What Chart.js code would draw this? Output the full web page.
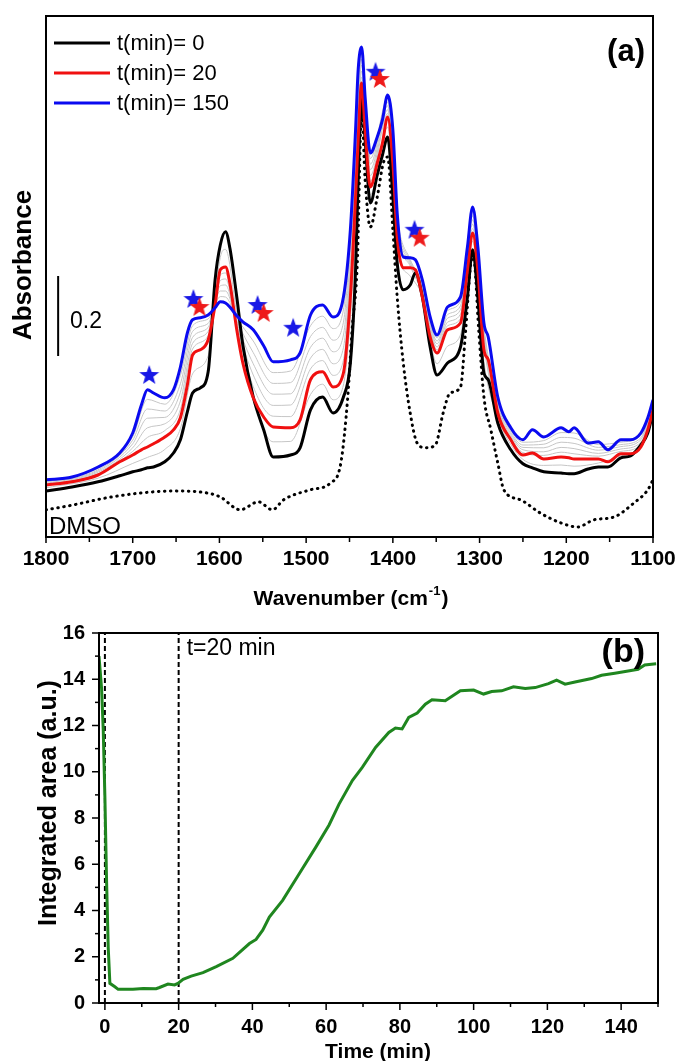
<!DOCTYPE html>
<html>
<head>
<meta charset="utf-8">
<script src="https://cdn.jsdelivr.net/npm/chart.js@4.4.1/dist/chart.umd.min.js"></script>
<style>
  html, body { margin: 0; padding: 0; background: #fff; }
  #wrap { position: relative; width: 678px; height: 1061px; overflow: hidden; background: #fff; }
  canvas { position: absolute; left: 0; }
  #spectraChart { top: 0; }
  #areaChart { top: 615px; }
</style>
</head>
<body>
<div id="wrap">
  <canvas id="spectraChart" width="678" height="615"></canvas>
  <canvas id="areaChart" width="678" height="446"></canvas>
</div>
<script>
// ---- panel (a) data: IR spectra ----
const wn = [1800, 1770, 1740, 1715, 1700, 1690, 1683, 1676, 1663, 1653,
  1645, 1637, 1631, 1622, 1613, 1605, 1599, 1593, 1588, 1580,
  1573, 1561, 1549, 1538, 1518, 1507, 1495, 1481, 1469, 1457,
  1449, 1443, 1440, 1436, 1432, 1426, 1418, 1412, 1406, 1400,
  1395, 1388, 1380, 1374, 1366, 1357, 1349, 1337, 1322, 1314,
  1308, 1302, 1295, 1290, 1279, 1264, 1250, 1239, 1226, 1206,
  1197, 1191, 1175, 1163, 1152, 1137, 1126, 1114, 1106, 1100];

const absT0 = [0.115, 0.125, 0.138, 0.153, 0.163, 0.168, 0.173, 0.175, 0.188, 0.210,
  0.243, 0.313, 0.360, 0.373, 0.413, 0.643, 0.730, 0.763, 0.723, 0.600,
  0.480, 0.350, 0.268, 0.200, 0.205, 0.223, 0.318, 0.350, 0.310, 0.350,
  0.435, 0.668, 0.893, 1.100, 0.993, 0.835, 0.905, 0.955, 1.000, 0.850,
  0.685, 0.618, 0.630, 0.660, 0.600, 0.475, 0.405, 0.435, 0.475, 0.600,
  0.718, 0.600, 0.410, 0.393, 0.285, 0.218, 0.183, 0.173, 0.163, 0.160,
  0.158, 0.158, 0.170, 0.175, 0.175, 0.198, 0.203, 0.230, 0.260, 0.313];

const absT20 = [0.130, 0.138, 0.155, 0.188, 0.205, 0.218, 0.225, 0.233, 0.250, 0.268,
  0.298, 0.380, 0.455, 0.468, 0.493, 0.580, 0.668, 0.675, 0.635, 0.518,
  0.435, 0.348, 0.300, 0.275, 0.273, 0.293, 0.393, 0.413, 0.375, 0.410,
  0.600, 0.850, 0.993, 1.135, 1.018, 0.875, 0.935, 0.985, 1.050, 0.935,
  0.750, 0.673, 0.673, 0.668, 0.600, 0.500, 0.460, 0.518, 0.535, 0.668,
  0.760, 0.668, 0.468, 0.443, 0.310, 0.243, 0.205, 0.210, 0.195, 0.200,
  0.198, 0.195, 0.195, 0.195, 0.188, 0.208, 0.208, 0.225, 0.268, 0.318];

const absT150 = [0.143, 0.150, 0.175, 0.210, 0.260, 0.330, 0.368, 0.360, 0.348, 0.368,
  0.425, 0.510, 0.543, 0.548, 0.555, 0.573, 0.588, 0.585, 0.575, 0.553,
  0.538, 0.518, 0.478, 0.438, 0.443, 0.460, 0.555, 0.580, 0.550, 0.600,
  0.768, 1.018, 1.168, 1.225, 1.100, 0.960, 1.000, 1.043, 1.105, 1.018,
  0.810, 0.700, 0.698, 0.693, 0.643, 0.550, 0.505, 0.575, 0.600, 0.725,
  0.825, 0.725, 0.535, 0.500, 0.350, 0.273, 0.243, 0.268, 0.250, 0.273,
  0.263, 0.273, 0.235, 0.238, 0.218, 0.243, 0.243, 0.260, 0.298, 0.343];

// intermediate spectra (thin grey)
const grayWn = [1800, 1740, 1700, 1683, 1663, 1645, 1631, 1613, 1599, 1593,
  1580, 1561, 1538, 1518, 1495, 1481, 1469, 1457, 1443, 1436,
  1426, 1406, 1395, 1380, 1366, 1349, 1337, 1322, 1308, 1295,
  1279, 1264, 1250, 1226, 1206, 1191, 1163, 1137, 1114, 1100];
const gray1 = [.123, .147, .184, .199, .219, .271, .408, .453, .699, .719, .559, .349, .238, .239, .356, .382, .343, .380, .759, 1.118,
  .855, 1.025, .718, .652, .600, .433, .477, .505, .739, .439, .298, .231, .194, .179, .180, .177, .185, .203, .228, .316];
const gray2 = [.132, .158, .214, .249, .266, .319, .470, .503, .655, .660, .524, .376, .302, .301, .420, .441, .404, .442, .878, 1.150,
  .889, 1.059, .760, .677, .607, .468, .528, .546, .771, .479, .317, .248, .211, .204, .212, .208, .202, .214, .231, .322];
const gray3 = [.134, .162, .223, .273, .283, .340, .484, .514, .641, .645, .530, .405, .329, .330, .447, .469, .433, .473, .906, 1.165,
  .903, 1.068, .770, .681, .614, .475, .537, .557, .782, .490, .323, .253, .218, .213, .224, .221, .209, .220, .237, .326];
const gray4 = [.137, .165, .233, .297, .299, .362, .499, .524, .628, .630, .536, .433, .357, .358, .474, .497, .463, .505, .934, 1.180,
  .918, 1.078, .780, .686, .622, .483, .547, .568, .793, .502, .330, .258, .224, .223, .237, .234, .217, .226, .243, .331];
const gray5 = [.139, .168, .242, .320, .315, .383, .514, .534, .615, .615, .541, .461, .384, .386, .501, .524, .492, .537, .962, 1.195,
  .932, 1.087, .790, .690, .629, .490, .556, .578, .803, .513, .337, .263, .230, .232, .249, .247, .224, .231, .248, .335];
const gray6 = [.141, .172, .251, .344, .332, .404, .528, .545, .601, .600, .547, .490, .411, .415, .528, .552, .521, .568, .990, 1.210,
  .946, 1.096, .800, .694, .636, .498, .566, .589, .814, .524, .343, .268, .237, .241, .261, .260, .231, .237, .254, .339];

const dmsoWn = [1800, 1769, 1730, 1691, 1653, 1614, 1599, 1576, 1555, 1539,
  1526, 1495, 1472, 1460, 1452, 1447, 1441, 1436, 1432, 1426,
  1418, 1411, 1406, 1400, 1395, 1388, 1380, 1372, 1362, 1351,
  1342, 1334, 1322, 1316, 1310, 1307, 1301, 1295, 1287, 1279,
  1272, 1253, 1230, 1206, 1187, 1168, 1145, 1122, 1106, 1100];
const dmsoAbs = [.068, .080, .098, .110, .115, .110, .100, .068, .088, .068,
  .093, .118, .135, .185, .350, .518, .685, 1.060, .893, .775,
  .850, .935, .950, .768, .600, .435, .310, .235, .223, .230,
  .310, .360, .375, .518, .685, .700, .518, .350, .268, .185,
  .118, .093, .060, .035, .025, .043, .050, .085, .118, .143];

const starBlueWn = [1681, 1630, 1556, 1515, 1420, 1375];
const starBlueAbs = [0.405, 0.595, 0.580, 0.523, 1.163, 0.768];
const starRedWn = [1623, 1549, 1415, 1369];
const starRedAbs = [0.575, 0.560, 1.145, 0.748];

const wnTicks = [1800, 1700, 1600, 1500, 1400, 1300, 1200, 1100];
const scaleBarWn = [1786, 1786];
const scaleBarAbs = [0.4525, 0.6525];

// ---- panel (b) data: integrated area vs time ----
const timeMin = [-1.6, -0.9, -0.45, 0, 0.45, 0.9, 1.35, 2.7, 3.6, 7.6,
  10.4, 13.9, 14.8, 17.1, 18.9, 19.8, 21.2, 23.4, 26.6, 30.2,
  34.7, 39.2, 41.0, 42.8, 44.6, 48.2, 52.7, 57.2, 60.8, 63.5,
  67.1, 69.8, 73.4, 77.0, 78.8, 80.6, 82.4, 84.7, 86.9, 88.7,
  92.3, 96.4, 100.0, 102.7, 104.9, 107.6, 110.8, 114.0, 116.7, 120.3,
  122.5, 124.8, 127.5, 132.0, 134.7, 138.3, 141.9, 144.6, 146.4, 149.5];
const area = [15.0, 13.6, 11.8, 8.9, 5.3, 2.4, 0.85, 0.70, 0.59, 0.59,
  0.63, 0.62, 0.67, 0.82, 0.78, 0.85, 1.02, 1.16, 1.31, 1.57,
  1.93, 2.57, 2.75, 3.15, 3.72, 4.44, 5.59, 6.74, 7.70, 8.60,
  9.62, 10.19, 11.05, 11.70, 11.89, 11.85, 12.35, 12.54, 12.92, 13.11,
  13.07, 13.50, 13.53, 13.36, 13.47, 13.50, 13.67, 13.60, 13.64, 13.81,
  13.96, 13.79, 13.88, 14.03, 14.17, 14.26, 14.36, 14.43, 14.62, 14.67];
const timeTicks = [0, 20, 40, 60, 80, 100, 120, 140];
const areaTicks = [0, 2, 4, 6, 8, 10, 12, 14, 16];
const markerTimes = [0, 20];

const FONT = '"Liberation Sans", Arial, sans-serif';

function toXY(xs, ys) {
  return xs.map((x, i) => ({ x: x, y: ys[i] }));
}

// filled five-point star used as point style
function makeStar(color) {
  const c = document.createElement("canvas");
  c.width = 22;
  c.height = 22;
  const g = c.getContext("2d");
  g.beginPath();
  for (let i = 0; i < 10; i++) {
    const r = i % 2 === 0 ? 10.5 : 4.3;
    const a = -Math.PI / 2 + i * Math.PI / 5;
    const px = 11 + r * Math.cos(a);
    const py = 11.5 + r * Math.sin(a);
    if (i === 0) g.moveTo(px, py); else g.lineTo(px, py);
  }
  g.closePath();
  g.fillStyle = color;
  g.fill();
  return c;
}

function line(data, color, width, order, extra) {
  return Object.assign({
    data: data,
    borderColor: color,
    borderWidth: width,
    pointRadius: 0,
    fill: false,
    order: order,
    cubicInterpolationMode: "monotone",
  }, extra || {});
}

// ---- panel (a) ----
const grays = [gray1, gray2, gray3, gray4, gray5, gray6];
const spectraSets = [
  { data: toXY(starRedWn, starRedAbs), showLine: false, pointStyle: makeStar("#ee1a1a"), pointRadius: 10, order: 0 },
  { data: toXY(starBlueWn, starBlueAbs), showLine: false, pointStyle: makeStar("#1818e6"), pointRadius: 10, order: 1 },
  line(toXY(wn, absT150), "#0a0af0", 3, 2),
  line(toXY(wn, absT20), "#f01010", 3, 3),
  line(toXY(wn, absT0), "#000000", 3, 4),
  line(toXY(dmsoWn, dmsoAbs), "#000000", 3, 5, { borderDash: [0.5, 5.5], borderCapStyle: "round" }),
  line(toXY(scaleBarWn, scaleBarAbs), "#000000", 2, 6),
];
grays.forEach((g, i) => {
  spectraSets.push(line(toXY(grayWn, g), "#c6c6c6", 1, 10 + i));
});

const panelA = {
  id: "panelA",
  afterDraw(chart) {
    const ctx = chart.ctx;
    const a = chart.chartArea;
    const x = chart.scales.x;
    ctx.save();
    ctx.strokeStyle = "#000";
    ctx.lineWidth = 2;
    ctx.strokeRect(a.left, a.top, a.right - a.left, a.bottom - a.top);
    // ticks
    ctx.lineWidth = 1.5;
    for (let v = 1100; v <= 1800; v += 50) {
      const px = x.getPixelForValue(v);
      const len = v % 100 === 0 ? 6 : 5;
      ctx.beginPath();
      ctx.moveTo(px, a.bottom);
      ctx.lineTo(px, a.bottom + len);
      ctx.stroke();
    }
    // legend
    const legend = [["#000000", "t(min)= 0"], ["#f01010", "t(min)= 20"], ["#0a0af0", "t(min)= 150"]];
    ctx.font = "22px " + FONT;
    ctx.textBaseline = "middle";
    ctx.textAlign = "left";
    legend.forEach((l, i) => {
      const ly = a.top + 27 + i * 30;
      ctx.strokeStyle = l[0];
      ctx.lineWidth = 3;
      ctx.beginPath();
      ctx.moveTo(a.left + 8, ly);
      ctx.lineTo(a.left + 64, ly);
      ctx.stroke();
      ctx.fillStyle = "#000";
      ctx.fillText(l[1], a.left + 71, ly + 1);
    });
    // labels
    ctx.fillStyle = "#000";
    ctx.font = "bold 31px " + FONT;
    ctx.textAlign = "right";
    ctx.fillText("(a)", a.right - 8, a.top + 36);
    ctx.font = "23px " + FONT;
    ctx.textAlign = "left";
    ctx.fillText("0.2", 70, 322);
    ctx.font = "24px " + FONT;
    ctx.fillText("DMSO", a.left + 3, a.bottom - 10);
    // y title
    ctx.save();
    ctx.translate(24, 265);
    ctx.rotate(-Math.PI / 2);
    ctx.font = "bold 26px " + FONT;
    ctx.textAlign = "center";
    ctx.fillText("Absorbance", 0, 0);
    ctx.restore();
    // x title with superscript
    const t1 = "Wavenumber (cm", t2 = "-1", t3 = ")";
    ctx.font = "bold 21px " + FONT;
    const w1 = ctx.measureText(t1).width, w3 = ctx.measureText(t3).width;
    ctx.font = "bold 13px " + FONT;
    const w2 = ctx.measureText(t2).width;
    let sx = 350 - (w1 + w2 + w3) / 2;
    const sy = 599;
    ctx.textAlign = "left";
    ctx.font = "bold 21px " + FONT;
    ctx.fillText(t1, sx, sy);
    ctx.font = "bold 13px " + FONT;
    ctx.fillText(t2, sx + w1 + 1, sy - 8);
    ctx.font = "bold 21px " + FONT;
    ctx.fillText(t3, sx + w1 + w2 + 2, sy);
    ctx.restore();
  },
};

new Chart(document.getElementById("spectraChart").getContext("2d"), {
  type: "line",
  data: { datasets: spectraSets },
  options: {
    responsive: false,
    animation: false,
    layout: { padding: { left: 46, top: 16, right: 25, bottom: 0 } },
    plugins: { legend: { display: false }, tooltip: { enabled: false } },
    scales: {
      x: {
        type: "linear",
        reverse: true,
        min: 1100,
        max: 1800,
        afterBuildTicks: (s) => { s.ticks = wnTicks.map((v) => ({ value: v })); },
        afterFit: (s) => { s.height = 78; },
        grid: { display: false },
        border: { display: false },
        ticks: {
          padding: 2,
          color: "#000",
          autoSkip: false,
          maxRotation: 0,
          font: { family: FONT, size: 21, weight: "bold" },
          callback: (v) => String(v),
        },
      },
      y: { type: "linear", display: false, min: 0, max: 1.3025 },
    },
  },
  plugins: [panelA],
});

// ---- panel (b) ----
const panelB = {
  id: "panelB",
  afterDraw(chart) {
    const ctx = chart.ctx;
    const a = chart.chartArea;
    const x = chart.scales.x, y = chart.scales.y;
    ctx.save();
    ctx.strokeStyle = "#000";
    ctx.lineWidth = 2;
    ctx.strokeRect(a.left, a.top, a.right - a.left, a.bottom - a.top);
    ctx.lineWidth = 1.5;
    for (let v = 0; v <= 150; v += 10) {
      const px = x.getPixelForValue(v);
      const len = v % 20 === 0 ? 7 : 4;
      ctx.beginPath();
      ctx.moveTo(px, a.bottom);
      ctx.lineTo(px, a.bottom + len);
      ctx.stroke();
    }
    for (let v = 0; v <= 16; v += 1) {
      const py = y.getPixelForValue(v);
      const len = v % 2 === 0 ? 7 : 4;
      ctx.beginPath();
      ctx.moveTo(a.left, py);
      ctx.lineTo(a.left - len, py);
      ctx.stroke();
    }
    ctx.fillStyle = "#000";
    ctx.textBaseline = "middle";
    ctx.textAlign = "left";
    ctx.font = "23px " + FONT;
    ctx.fillText("t=20 min", x.getPixelForValue(20) + 8, a.top + 16);
    ctx.font = "bold 34px " + FONT;
    ctx.textAlign = "right";
    ctx.fillText("(b)", a.right - 13, a.top + 20);
    ctx.font = "bold 21px " + FONT;
    ctx.textAlign = "center";
    ctx.fillText("Time (min)", 378, 437);
    ctx.save();
    ctx.translate(49, 188);
    ctx.rotate(-Math.PI / 2);
    ctx.font = "bold 25px " + FONT;
    ctx.fillText("Integrated area (a.u.)", 0, 0);
    ctx.restore();
    ctx.restore();
  },
};

const areaSets = [
  { data: toXY(timeMin, area), borderColor: "#1f861f", borderWidth: 3, pointRadius: 0, tension: 0, order: 0 },
];
markerTimes.forEach((t, i) => {
  areaSets.push({
    data: [{ x: t, y: 0 }, { x: t, y: 16 }],
    borderColor: "#000",
    borderWidth: 2,
    borderDash: [5, 3],
    pointRadius: 0,
    order: 1 + i,
  });
});

new Chart(document.getElementById("areaChart").getContext("2d"), {
  type: "line",
  data: { datasets: areaSets },
  options: {
    responsive: false,
    animation: false,
    layout: { padding: { left: 0, top: 17, right: 20, bottom: 0 } },
    plugins: { legend: { display: false }, tooltip: { enabled: false } },
    scales: {
      x: {
        type: "linear",
        min: -1.6,
        max: 150,
        afterBuildTicks: (s) => { s.ticks = timeTicks.map((v) => ({ value: v })); },
        afterFit: (s) => { s.height = 58; },
        grid: { display: false },
        border: { display: false },
        ticks: {
          padding: 4,
          color: "#000",
          autoSkip: false,
          maxRotation: 0,
          font: { family: FONT, size: 20, weight: "bold" },
          callback: (v) => String(v),
        },
      },
      y: {
        type: "linear",
        min: 0,
        max: 16,
        afterBuildTicks: (s) => { s.ticks = areaTicks.map((v) => ({ value: v })); },
        afterFit: (s) => { s.width = 99; },
        grid: { display: false },
        border: { display: false },
        ticks: {
          padding: 6,
          color: "#000",
          font: { family: FONT, size: 20, weight: "bold" },
          callback: (v) => String(v),
        },
      },
    },
  },
  plugins: [panelB],
});
</script>
</body>
</html>
